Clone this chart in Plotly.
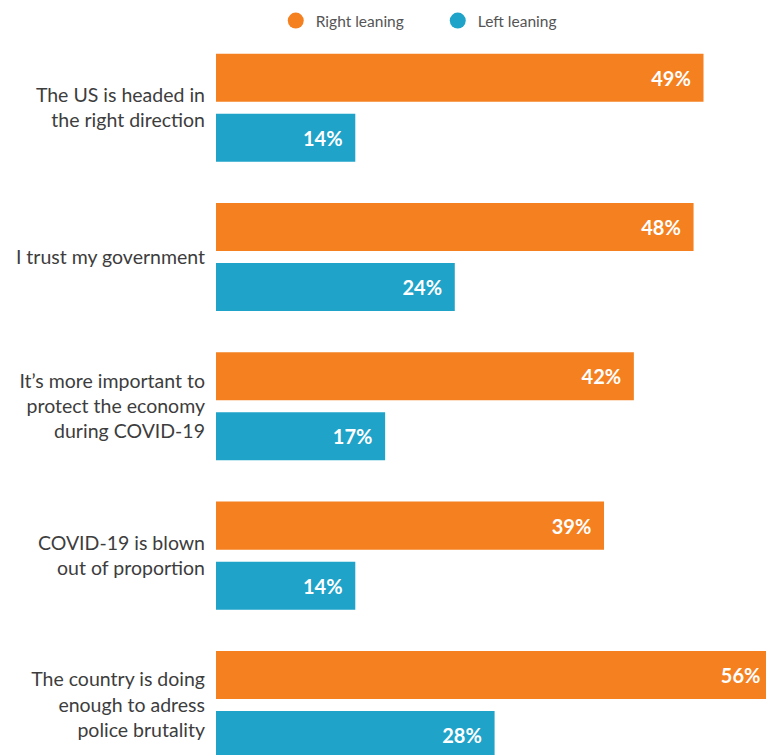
import plotly.graph_objects as go

# Survey statements (category axis), top to bottom
statements = [
    "The US is headed in<br>the right direction",
    "I trust my government",
    "It’s more important to<br>protect the economy<br>during COVID-19",
    "COVID-19 is blown<br>out of proportion",
    "The country is doing<br>enough to adress<br>police brutality",
]

# Share agreeing, in percent
right_leaning = [49, 48, 42, 39, 56]
left_leaning = [14, 24, 17, 14, 28]

series_names = ["Right leaning", "Left leaning"]
series_colors = ["#F58020", "#1FA3C8"]

FONT = "Lato"
LABEL_PAD = "\u00a0\u00a0"  # keeps value labels a little in from the bar end

fig = go.Figure()

for name, values, color in zip(series_names, [right_leaning, left_leaning], series_colors):
    fig.add_trace(
        go.Bar(
            name=name,
            y=statements,
            x=values,
            orientation="h",
            marker=dict(color=color, line=dict(width=0)),
            texttemplate="%{x}%" + LABEL_PAD,
            textposition="inside",
            insidetextanchor="end",
            textfont=dict(family=FONT, size=20, color="white", weight=700),
            showlegend=False,
            hoverinfo="skip",
        )
    )
    # round legend swatches
    fig.add_trace(
        go.Scatter(
            name=name,
            x=[None],
            y=[None],
            mode="markers",
            marker=dict(color=color, size=19, symbol="circle"),
            showlegend=True,
            hoverinfo="skip",
        )
    )

fig.update_layout(
    width=766,
    height=755,
    margin=dict(l=216, r=0, t=33, b=0, pad=0, autoexpand=False),
    paper_bgcolor="white",
    plot_bgcolor="white",
    barmode="group",
    bargap=0.196,
    bargroupgap=0.2,
    font=dict(family=FONT, color="#3d3d3d"),
    showlegend=True,
    legend=dict(
        orientation="h",
        xref="container",
        yref="container",
        x=0.36,
        y=1 - 21 / 755,
        xanchor="left",
        yanchor="middle",
        entrywidth=117,
        font=dict(family=FONT, size=15.5, color="#555555"),
        bgcolor="rgba(0,0,0,0)",
        borderwidth=0,
    ),
    xaxis=dict(
        range=[0, 55.28],
        showgrid=False,
        zeroline=False,
        showticklabels=False,
        showline=False,
        ticks="",
        fixedrange=True,
    ),
    yaxis=dict(
        categoryorder="array",
        categoryarray=statements,
        range=[4.335, -0.5],
        showgrid=False,
        zeroline=False,
        showline=False,
        ticks="",
        ticklabelstandoff=10,
        tickfont=dict(family=FONT, size=19.5, color="#3d3d3d"),
        fixedrange=True,
    ),
)

fig.write_html("out.html")
